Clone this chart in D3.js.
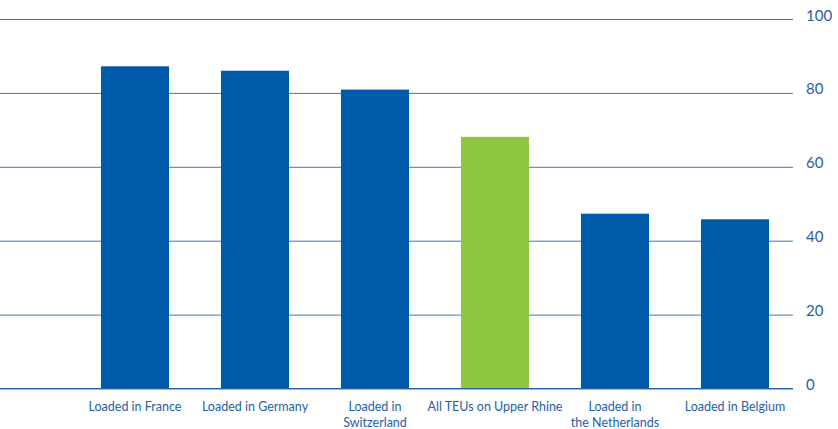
<!DOCTYPE html>
<html><head><meta charset="utf-8">
<script src="https://cdn.jsdelivr.net/npm/d3@7/dist/d3.min.js"></script>
<style>body{margin:0;background:#fff;}svg{display:block;}</style>
</head><body>
<script>
const categories = ["Loaded in France","Loaded in Germany","Loaded in\nSwitzerland","All TEUs on Upper Rhine","Loaded in\nthe Netherlands","Loaded in Belgium"];
const values = [87.2, 86.0, 80.9, 68.1, 47.3, 45.8];
const highlight = [false, false, false, true, false, false];
const yTicks = [0, 20, 40, 60, 80, 100];

const W = 838, H = 429;
const svg = d3.select("body").append("svg").attr("width", W).attr("height", H);
const x = d3.scaleBand().domain(categories).range([75, 795]).paddingInner(0.433).paddingOuter(0.2165);
const y = d3.scaleLinear().domain([0, 100]).range([388.5, 19]);
const gridRight = 793;

// gridlines + right axis
const ax = svg.append("g").attr("transform", `translate(${gridRight},0)`)
  .call(d3.axisRight(y).tickValues(yTicks).tickSize(-gridRight).tickPadding(13).tickFormat(d3.format("d")));
ax.select(".domain").remove();
ax.selectAll(".tick line").attr("stroke", "#3f78bb").attr("stroke-width", 1);
ax.selectAll(".tick text").attr("fill", "#1f60aa").attr("font-family", "Lato, 'Open Sans', sans-serif")
  .attr("font-size", 15).attr("dy", "0").attr("y", 1).attr("text-anchor", "start");

// bars
svg.append("g").selectAll("rect").data(values).join("rect")
  .attr("x", (d, i) => x(categories[i]))
  .attr("width", x.bandwidth())
  .attr("y", d => y(d))
  .attr("height", d => y(0) - y(d))
  .attr("fill", (d, i) => highlight[i] ? "#8dc63f" : "#005aaa");

// zero line on top
svg.append("line").attr("x1", 0).attr("x2", gridRight).attr("y1", y(0)).attr("y2", y(0))
  .attr("stroke", "#1f60aa").attr("stroke-width", 1.2);

// category labels
const lab = svg.append("g").selectAll("text").data(categories).join("text")
  .attr("x", d => x(d) + x.bandwidth() / 2)
  .attr("y", 411)
  .attr("text-anchor", "middle")
  .attr("fill", "#1f60aa")
  .attr("font-family", "Lato, 'Open Sans', sans-serif")
  .attr("font-size", 12.5);
lab.each(function(d) {
  const lines = d.split("\n");
  d3.select(this).selectAll("tspan").data(lines).join("tspan")
    .attr("x", x(d) + x.bandwidth() / 2)
    .attr("dy", (l, i) => i === 0 ? 0 : 15.5)
    .text(l => l);
});
</script>
</body></html>
